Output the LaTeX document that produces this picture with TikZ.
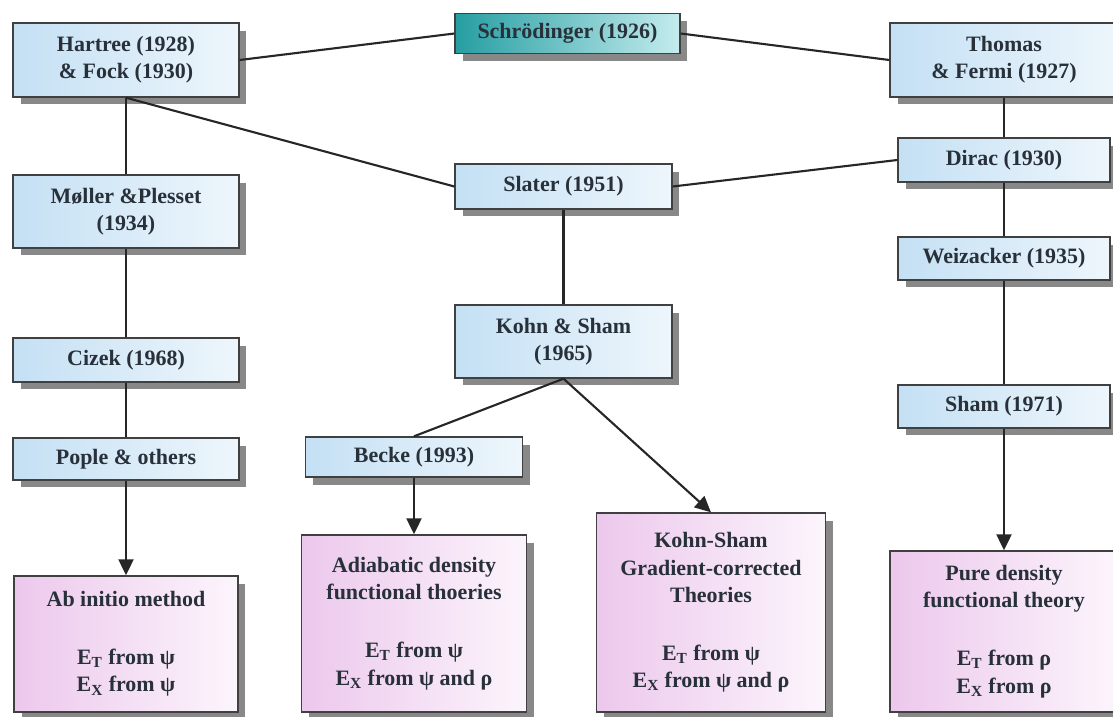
\documentclass[tikz,border=0pt]{standalone}
\usepackage{fontspec}
\setmainfont{Liberation Serif}
\usepackage{xcolor}
\usepackage{tikz}
\usetikzlibrary{arrows.meta,shadows}

\definecolor{boxblue}{RGB}{196,224,244}
\definecolor{boxblueb}{RGB}{238,246,252}
\definecolor{boxpink}{RGB}{236,200,236}
\definecolor{boxpinkb}{RGB}{252,245,252}
\definecolor{boxteal}{RGB}{38,158,162}
\definecolor{boxtealb}{RGB}{196,236,238}
\definecolor{inkc}{RGB}{40,48,58}

\begin{document}
\begin{tikzpicture}[x=0.02cm, y=-0.02cm,
    font=\fontsize{12.5}{15.5}\selectfont\bfseries,
    every node/.style={text=inkc, align=center, inner sep=2pt},
    shadowed/.style={draw=black!75, line width=0.8pt,
      drop shadow={shadow xshift=0.15cm, shadow yshift=-0.15cm, fill=black!55, opacity=0.85}},
    era/.style={shadowed, left color=boxblue, right color=boxblueb},
    theory/.style={shadowed, left color=boxpink, right color=boxpinkb},
    origin/.style={shadowed, left color=boxteal, right color=boxtealb},
    link/.style={draw=black!85, line width=1.2pt},
    flow/.style={link, -{Triangle[length=0.32cm, width=0.3cm]}}]
    \path[use as bounding box, clip] (0,0) rectangle (1113,717);

    % root and the three branches
    \node[origin, minimum width=4.5cm, minimum height=0.8cm] (schr) at (567.5,33.5) {Schrödinger (1926)};
    \node[era, minimum width=4.52cm, minimum height=1.48cm] (hf) at (126,60) {Hartree (1928)\\ \& Fock (1930)};
    \node[era, minimum width=4.56cm, minimum height=1.48cm] (tf) at (1004,60) {Thomas\\ \& Fermi (1927)};

    \node[era, minimum width=4.52cm, minimum height=1.46cm] (moller) at (126,211.5) {Møller \&Plesset\\ (1934)};
    \node[era, minimum width=4.52cm, minimum height=0.88cm] (cizek) at (126,360) {Cizek (1968)};
    \node[era, minimum width=4.52cm, minimum height=0.84cm] (pople) at (126,459) {Pople \& others};

    \node[era, minimum width=4.34cm, minimum height=0.9cm] (slater) at (563.5,186.5) {Slater (1951)};
    \node[era, minimum width=4.34cm, minimum height=1.46cm] (ks) at (563.5,341.5) {Kohn \& Sham\\ (1965)};
    \node[era, minimum width=4.34cm, minimum height=0.8cm] (becke) at (414,457) {Becke (1993)};

    \node[era, minimum width=4.24cm, minimum height=0.88cm] (dirac) at (1004,160) {Dirac (1930)};
    \node[era, minimum width=4.24cm, minimum height=0.86cm] (weiz) at (1004,258.5) {Weizacker (1935)};
    \node[era, minimum width=4.24cm, minimum height=0.86cm] (sham) at (1004,406.5) {Sham (1971)};

    % resulting theories
    \node[theory, minimum width=4.48cm, minimum height=2.72cm] (abinitio) at (126,644)
      {Ab initio method\\[1.4em] E\textsubscript{T} from ψ\\ E\textsubscript{X} from ψ};
    \node[theory, minimum width=4.5cm, minimum height=3.54cm] (adiab) at (414,623.5)
      {Adiabatic density\\ functional thoeries\\[1.4em] E\textsubscript{T} from ψ\\ E\textsubscript{X} from ψ and ρ};
    \node[theory, minimum width=4.58cm, minimum height=3.98cm] (kst) at (711,612.5)
      {Kohn-Sham\\ Gradient-corrected\\ Theories\\[1.4em] E\textsubscript{T} from ψ\\ E\textsubscript{X} from ψ and ρ};
    \node[theory, minimum width=4.56cm, minimum height=3.22cm] (pure) at (1004,631.5)
      {Pure density\\ functional theory\\[1.4em] E\textsubscript{T} from ρ\\ E\textsubscript{X} from ρ};

    % connectors
    \draw[link] (hf.east) -- (schr.west);
    \draw[link] (schr.east) -- (tf.west);
    \draw[link] (hf.south) -- (moller.north);
    \draw[link] (moller.south) -- (cizek.north);
    \draw[link] (cizek.south) -- (pople.north);
    \draw[flow] (pople.south) -- (abinitio.north);
    \draw[link] (hf.south) -- (slater.west);
    \draw[link] (dirac.west) -- (slater.east);
    \draw[link] (slater.south) -- (ks.north);
    \draw[link] (ks.south) -- (becke.north);
    \draw[flow] (becke.south) -- (adiab.north);
    \draw[flow] (ks.south) -- (kst.north);
    \draw[link] (tf.south) -- (dirac.north);
    \draw[link] (dirac.south) -- (weiz.north);
    \draw[link] (weiz.south) -- (sham.north);
    \draw[flow] (sham.south) -- (pure.north);
\end{tikzpicture}
\end{document}
